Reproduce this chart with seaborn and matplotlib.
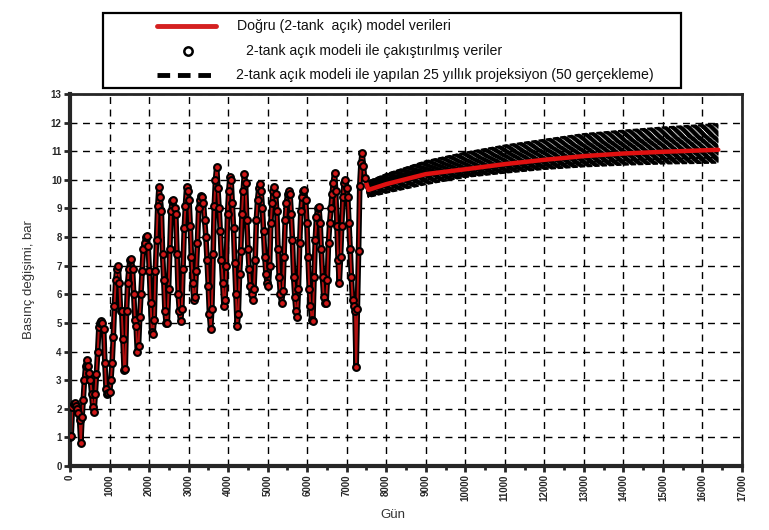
import numpy as np
import pandas as pd
import matplotlib
matplotlib.use("Agg")
import matplotlib.pyplot as plt
from matplotlib.lines import Line2D
from matplotlib.patches import Rectangle
import seaborn as sns

# history: monthly pressure change (bar), one row per year
hist_rows = [
    [1.0, 1.05, 2.05, 2.15, 2.2, 2.1, 2.0, 1.85, 1.6, 0.8, 1.7, 2.3],
    [3.0, 3.5, 3.7, 3.5, 3.25, 3.0, 2.5, 2.05, 1.9, 2.5, 3.2, 4.0],
    [4.85, 5.0, 5.05, 5.0, 4.8, 3.6, 2.7, 2.5, 2.55, 2.6, 3.0, 3.6],
    [4.5, 5.6, 6.5, 6.9, 7.0, 6.4, 5.4, 5.4, 4.45, 3.35, 3.4, 5.4],
    [6.4, 6.9, 7.2, 7.25, 6.9, 6.0, 5.1, 4.9, 4.0, 4.2, 5.2, 6.0],
    [6.8, 7.6, 7.8, 8.0, 8.05, 7.7, 6.8, 5.7, 4.7, 4.6, 5.1, 6.8],
    [7.9, 9.1, 9.75, 9.4, 8.9, 7.4, 6.5, 5.4, 5.0, 5.0, 6.2, 7.6],
    [8.9, 9.25, 9.3, 9.0, 8.8, 7.4, 6.0, 5.4, 5.05, 5.5, 6.9, 8.3],
    [9.1, 9.75, 9.6, 9.3, 8.4, 7.3, 6.4, 5.8, 5.9, 6.8, 7.8, 9.0],
    [9.3, 9.45, 9.4, 9.2, 8.6, 8.0, 7.2, 6.3, 5.3, 4.8, 5.5, 7.4],
    [9.1, 10.0, 10.45, 9.7, 9.0, 8.2, 7.2, 6.4, 5.6, 5.8, 7.0, 8.8],
    [9.6, 10.1, 10.0, 9.2, 8.3, 7.1, 6.0, 4.9, 5.3, 6.7, 7.5, 8.8],
    [9.6, 10.2, 9.9, 8.6, 7.6, 6.9, 6.3, 6.0, 5.8, 6.2, 7.2, 8.6],
    [9.3, 9.7, 9.85, 9.6, 9.0, 8.2, 7.3, 6.7, 6.4, 6.3, 7.0, 8.5],
    [9.2, 9.6, 9.75, 9.5, 8.9, 7.6, 6.6, 6.0, 5.7, 6.1, 7.3, 8.6],
    [9.2, 9.5, 9.6, 9.5, 8.8, 7.9, 6.6, 5.9, 5.4, 5.2, 6.2, 7.8],
    [8.9, 9.4, 9.6, 9.65, 9.3, 8.5, 7.3, 6.2, 5.6, 5.1, 5.05, 6.6],
    [7.9, 8.7, 9.0, 9.05, 8.5, 7.6, 6.6, 5.9, 5.7, 5.7, 6.5, 7.8],
    [8.5, 9.0, 9.5, 9.9, 10.25, 9.6, 8.4, 7.2, 6.4, 7.3, 8.4, 9.4],
    [9.9, 10.0, 9.7, 9.4, 8.5, 7.6, 6.6, 5.8, 5.6, 5.4, 3.45, 5.5],
    [7.5, 9.8, 10.6, 10.95, 10.5, 10.06],
]
hist_vals = [v for row in hist_rows for v in row]
hist_days = [round(i * 365 / 12) for i in range(len(hist_vals))]

# 25-year projection checkpoints
proj_days = [7550, 8000, 9000, 10000, 11000, 12000, 13000, 14000, 15000, 16400]
true_proj = [9.65, 9.85, 10.2, 10.37, 10.55, 10.7, 10.83, 10.92, 10.98, 11.05]
upper_proj = [9.95, 10.2, 10.65, 10.95, 11.2, 11.4, 11.6, 11.72, 11.83, 11.95]
lower_proj = [9.4, 9.55, 9.85, 10.1, 10.25, 10.38, 10.47, 10.53, 10.57, 10.6]
# position of each of the 50 realizations inside the band (-1 = lower, 1 = upper)
spread = [-1.0, -0.95, -0.9, -0.85, -0.8, -0.75, -0.7, -0.62, -0.55, -0.5,
          -0.44, -0.38, -0.32, -0.27, -0.22, -0.17, -0.12, -0.08, -0.04, 0.0,
          0.03, 0.06, 0.1, 0.13, 0.16, 0.2, 0.23, 0.27, 0.3, 0.33,
          0.36, 0.4, 0.43, 0.46, 0.5, 0.53, 0.56, 0.6, 0.64, 0.68,
          0.72, 0.76, 0.8, 0.84, 0.88, 0.92, 0.95, 0.98, 1.0, -0.6]

xticks = list(range(0, 17001, 1000))
yticks = list(range(0, 14))

legend_labels = [
    "Doğru (2-tank  açık) model verileri",
    "2-tank açık modeli ile çakıştırılmış veriler",
    "2-tank açık modeli ile yapılan 25 yıllık projeksiyon (50 gerçekleme)",
]

sns.set_style("ticks")
plt.rcParams["font.family"] = ["Liberation Sans", "DejaVu Sans"]

# realizations table
t = np.array(true_proj)
up = np.array(upper_proj)
lo = np.array(lower_proj)
rows = []
for k, s in enumerate(spread):
    vals = t + s * (up - t) if s >= 0 else t + s * (t - lo)
    rows.append(pd.DataFrame({"day": [hist_days[-1]] + proj_days,
                              "p": [hist_vals[-1]] + list(vals), "real": k}))
real_df = pd.concat(rows, ignore_index=True)

true_df = pd.DataFrame({"day": hist_days + proj_days, "p": hist_vals + true_proj})
hist_df = pd.DataFrame({"day": hist_days, "p": hist_vals})
proj_df = true_df[true_df["day"] >= hist_days[-1]]

fig = plt.figure(figsize=(7.69, 5.30), dpi=100)
ax = fig.add_axes([70 / 769, 1 - 466 / 530, 672 / 769, 372 / 530])

sns.lineplot(data=real_df, x="day", y="p", units="real", estimator=None,
             color="black", lw=1.5, linestyle=(0, (2.5, 1.0)), ax=ax, sort=False)
# stagger the dash phase so the 50 dashed lines do not line up
for k, line in enumerate(ax.lines):
    line.set_linestyle((k * 0.53 % 3.5, (2.5, 1.0)))

sns.lineplot(data=hist_df, x="day", y="p", color="black", lw=4.0, ax=ax, sort=False)
sns.lineplot(data=true_df, x="day", y="p", color="#b01010", lw=1.4, ax=ax, sort=False)
sns.lineplot(data=proj_df, x="day", y="p", color="#e01010", lw=3.2, ax=ax, sort=False)
sns.scatterplot(data=hist_df, x="day", y="p", marker="o", s=24, color="#d01818",
                edgecolor="black", linewidth=1.5, ax=ax, zorder=4)

ax.set_xlim(0, 17000)
ax.set_ylim(0, 13)
ax.set_xticks(xticks)
ax.set_xticklabels([str(v) for v in xticks], rotation=90, fontsize=7, fontweight="bold")
ax.set_xticks(list(range(500, 17000, 1000)), minor=True)
ax.set_yticks(yticks)
ax.set_yticklabels([str(v) for v in yticks], fontsize=7, fontweight="bold")
ax.tick_params(axis="both", which="major", direction="out", length=4, width=2, pad=2)
ax.tick_params(axis="x", which="minor", direction="out", length=3, width=2)
ax.grid(True, which="major", color="black", lw=1, ls=(0, (5, 4)))
ax.set_axisbelow(True)
for side in ["left", "bottom"]:
    ax.spines[side].set_linewidth(3)
for side in ["top", "right"]:
    ax.spines[side].set_linewidth(2)

ax.set_xlabel("Gün", fontsize=9.5, color="#333333")
ax.set_ylabel("Basınç değişimi, bar", fontsize=9.5, color="#333333")
ax.xaxis.set_label_coords(0.48, -0.115)
ax.yaxis.set_label_coords(-0.052, 0.5)

# legend box above the axes
def fx(px):
    return px / 769

def fy(py):
    return 1 - py / 530

fig.add_artist(Rectangle((fx(103), fy(88)), fx(681) - fx(103), fy(13) - fy(88),
                         fill=False, ec="black", lw=1.6, transform=fig.transFigure))
fig.add_artist(Line2D([fx(157), fx(216)], [fy(26), fy(26)], color="#d42020", lw=3.5,
                      transform=fig.transFigure))
fig.add_artist(Line2D([fx(188)], [fy(51)], marker="o", ms=6, mfc="white", mec="black",
                      mew=1.8, transform=fig.transFigure))
fig.add_artist(Line2D([fx(157), fx(216)], [fy(75), fy(75)], color="black", lw=3.5,
                      ls=(0, (2.6, 1.6)), transform=fig.transFigure))
for label, x0, y0 in zip(legend_labels, [237, 246, 236], [26, 51, 75]):
    fig.text(fx(x0), fy(y0), label, fontsize=10.2, va="center", ha="left", color="#111111")

fig.savefig("out.png", dpi=100)
